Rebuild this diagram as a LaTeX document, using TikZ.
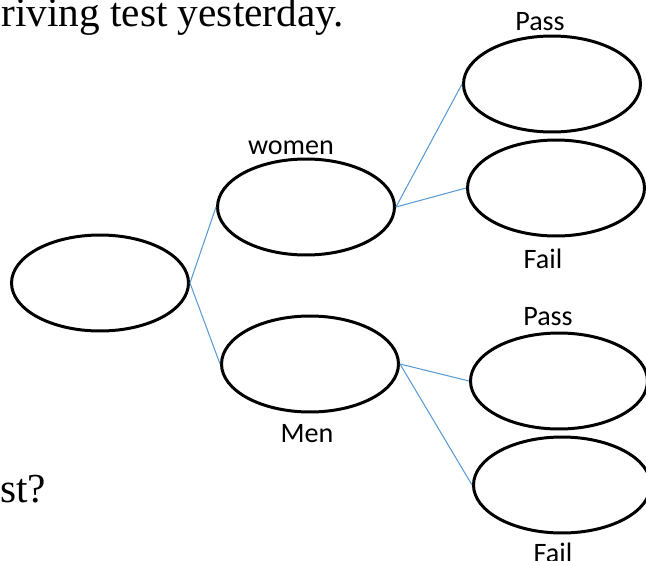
\documentclass[tikz,border=0pt]{standalone}
\usepackage{fontspec}
\setmainfont{Liberation Serif}
\newfontfamily\labelfont{Carlito}
\usetikzlibrary{shapes.geometric}
\definecolor{branchblue}{RGB}{91,155,213}
\tikzset{
  outcome/.style={draw,ellipse,line width=1.7pt,inner sep=0pt,minimum width=3.54cm,minimum height=1.92cm},
  branch/.style={draw=branchblue,line width=0.6pt},
  tag/.style={inner sep=0pt,font=\labelfont\fontsize{16}{19}\selectfont},
  prose/.style={inner sep=0pt,font=\fontsize{23.5}{28}\selectfont}
}
\begin{document}
\begin{tikzpicture}[x=0.02cm,y=-0.02cm]
\useasboundingbox (0,0) rectangle (646,561);
\node[prose,anchor=base west] (line1) at (1,27) {riving test yesterday.};
\node[prose,anchor=base west] (line2) at (0,502) {st?};
\node[outcome] (root) at (100,283) {};
\node[outcome] (women) at (306,207) {};
\node[outcome] (men) at (310,364) {};
\node[outcome] (wpass) at (552,84) {};
\node[outcome] (wfail) at (556,188) {};
\node[outcome] (mpass) at (559,381) {};
\node[outcome] (mfail) at (562,485) {};
\node[tag] (womenlbl) at (291,148) {women};
\node[tag] (menlbl) at (307,434) {Men};
\node[tag] (wpasslbl) at (540,22) {Pass};
\node[tag] (wfaillbl) at (543,259) {Fail};
\node[tag] (mpasslbl) at (548,317) {Pass};
\node[tag] (mfaillbl) at (553,553) {Fail};
\draw[branch] (root.east) -- (women.west);
\draw[branch] (root.east) -- (men.west);
\draw[branch] (women.east) -- (wpass.west);
\draw[branch] (women.east) -- (wfail.west);
\draw[branch] (men.east) -- (mpass.west);
\draw[branch] (men.east) -- (mfail.west);
\end{tikzpicture}
\end{document}
